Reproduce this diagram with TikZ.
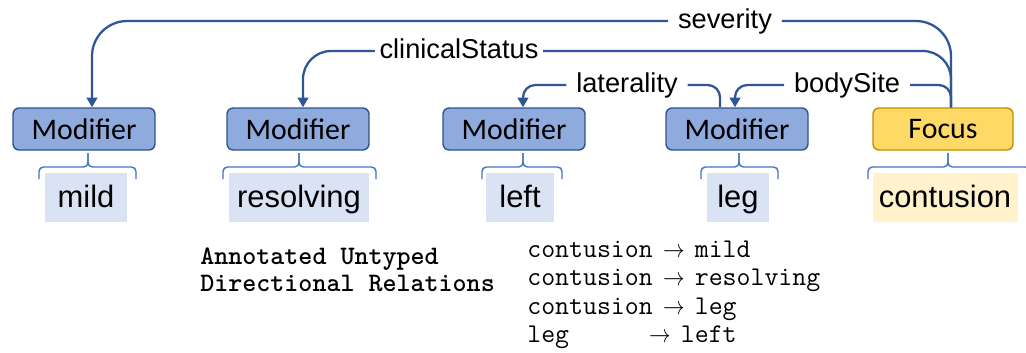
\documentclass[tikz,border=0pt]{standalone}
\usepackage{fontspec}
\setmainfont{Liberation Sans}
\newfontfamily\boxfont{Carlito}
\newfontfamily\annfont{lmmonolt10-bold.otf}
\usetikzlibrary{arrows.meta,calc}
\definecolor{modfill}{HTML}{8FAADC}
\definecolor{modedge}{HTML}{2F528F}
\definecolor{focfill}{HTML}{FFD966}
\definecolor{focedge}{HTML}{BF9000}
\definecolor{wordfill}{HTML}{DAE3F3}
\definecolor{focword}{HTML}{FFF2CC}
\definecolor{relblue}{HTML}{2F5597}
\definecolor{spanblue}{HTML}{4472C4}
\newcommand{\relto}{\makebox[0.525em]{\scalebox{0.85}[1]{$\rightarrow$}}}
\newcommand{\tokspan}[3]{%
  \draw[spanline] (#1,179) |- (#2,167) -- (#2,153);
  \draw[spanline] (#3,179) |- (#2,167) -- (#2,153);}
\tikzset{
  modbox/.style={draw=modedge, fill=modfill, rounded corners=3.5pt, line width=0.8pt,
    minimum width=2.84cm, minimum height=0.84cm, inner sep=0pt,
    font=\boxfont\fontsize{17}{18}\selectfont},
  focusbox/.style={draw=focedge, fill=focfill, minimum width=2.8cm},
  word/.style={fill=wordfill, minimum height=0.98cm, inner sep=0pt,
    text height=13.5pt, text depth=1.5pt,
    font=\fontsize{17.6}{20}\selectfont},
  rellbl/.style={inner ysep=0pt, inner xsep=5.5pt, text height=11pt, text depth=3pt,
    font=\fontsize{15.5}{17}\selectfont},
  rel/.style={draw=relblue, line width=1.3pt, -{Triangle[length=5.5pt,width=6pt]}},
  spanline/.style={draw=spanblue, line width=0.8pt, rounded corners=2.5pt},
  mono/.style={anchor=base west, inner sep=0pt, font=\ttfamily\fontsize{15.4}{17}\selectfont}
}

\begin{document}
\begin{tikzpicture}[x=0.02cm,y=-0.02cm]
\useasboundingbox (0,0) rectangle (1026,352);
\clip (0,0) rectangle (1026,352);

% entity boxes
\node[modbox] (m1) at (84,129) {Modifier};
\node[modbox] (m2) at (298,129) {Modifier};
\node[modbox] (m3) at (514,129) {Modifier};
\node[modbox] (m4) at (737,129) {Modifier};
\node[modbox,focusbox] (foc) at (943,129) {Focus};

% tokens
\node[word, minimum width=1.64cm] (w1) at (86,197) {mild};
\node[word, minimum width=2.82cm] (w2) at (299,197) {resolving};
\node[word, minimum width=1.36cm] (w3) at (520,197) {left};
\node[word, minimum width=1.24cm] (w4) at (738,197) {leg};
\node[word, fill=focword, minimum width=2.9cm] (w5) at (945,197) {contusion};

% spans
\tokspan{39}{88}{136}
\tokspan{223}{299}{376}
\tokspan{482}{523}{562}
\tokspan{701}{739}{778}
\tokspan{868}{948}{1030}

% relation labels
\node[rellbl] (sev) at (725,21) {severity};
\node[rellbl, inner xsep=2.5pt] (cs) at (459,51) {clinicalStatus};
\node[rellbl] (lat) at (627,85) {laterality};
\node[rellbl] (bs) at (847,85) {bodySite};

% relations
\draw[rel, rounded corners=20pt] ($(foc.north)+(8,0)$) |- (sev) -| ($(m1.north)+(8,0)$);
\draw[rel, rounded corners=16pt] ($(foc.north)+(8,0)$) |- (cs) -| ($(m2.north)+(5,0)$);
\draw[rel, rounded corners=7pt] ($(m4.north)+(-17,0)$) |- (lat) -| ($(m3.north)+(9,0)$);
\draw[rel, rounded corners=7pt] ($(foc.north)+(8,0)$) |- (bs) -| ($(m4.north)+(-2,0)$);

% untyped relations
\node[mono, font=\annfont\fontsize{15.2}{17}\selectfont] (ann1) at (200,264) {Annotated Untyped};
\node[mono, font=\annfont\fontsize{15.2}{17}\selectfont] (ann2) at (200,291) {Directional Relations};
\node[mono] (r1) at (527,257) {contusion \relto{} mild};
\node[mono] (r2) at (527,285.5) {contusion \relto{} resolving};
\node[mono] (r3) at (527,314) {contusion \relto{} leg};
\node[mono] (r4) at (527,342.5) {leg\phantom{usion} \relto{} left};
\end{tikzpicture}
\end{document}
